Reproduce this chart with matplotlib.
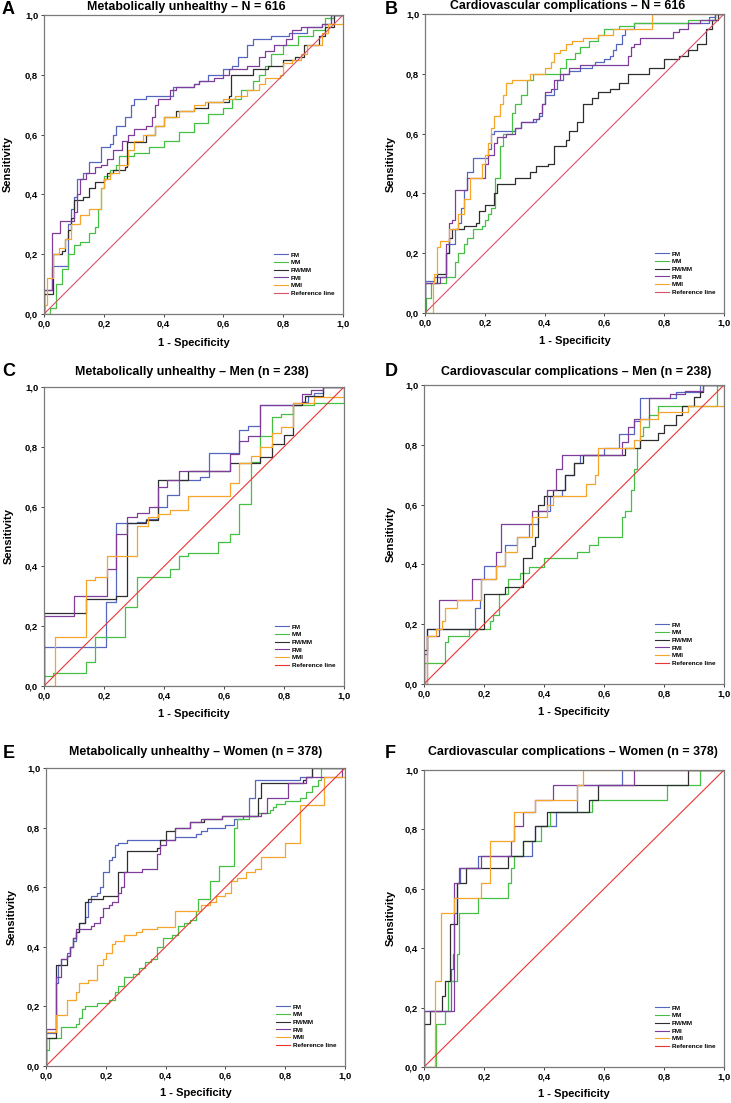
import matplotlib
matplotlib.use("Agg")
import matplotlib.pyplot as plt

plt.rcParams['font.family'] = ['Liberation Sans', 'DejaVu Sans']
plt.rcParams['font.weight'] = 'bold'

W, H = 731, 1103

SERIES = ['FM', 'MM', 'FM/MM', 'FMI', 'MMI']
COLORS = ['#5566c0', '#45c045', '#2e2e2e', '#7d3d98', '#f5a52a']
TICKS = [0.0, 0.2, 0.4, 0.6, 0.8, 1.0]
TICK_LABELS = ['0,0', '0,2', '0,4', '0,6', '0,8', '1,0']

# ROC curves: (1 - specificity, sensitivity) at each jump
A_FM = [(0, 0), (0, 0.08), (0.026, 0.16), (0.08, 0.3), (0.09, 0.35), (0.1, 0.39), (0.11, 0.45), (0.13, 0.47),
        (0.15, 0.51), (0.19, 0.56), (0.22, 0.57), (0.23, 0.6), (0.24, 0.63), (0.27, 0.66), (0.29, 0.7), (0.3, 0.72),
        (0.34, 0.73), (0.43, 0.76), (0.5, 0.77), (0.52, 0.78), (0.55, 0.8), (0.6, 0.82), (0.63, 0.83), (0.65, 0.86),
        (0.68, 0.9), (0.7, 0.92), (0.76, 0.93), (0.82, 0.94), (0.88, 0.96), (0.93, 0.97), (0.96, 1.0), (1.0, 1.0)]
A_MM = [(0, 0), (0.02, 0.02), (0.04, 0.1), (0.06, 0.15), (0.08, 0.2), (0.1, 0.23), (0.12, 0.24), (0.15, 0.27),
        (0.17, 0.29), (0.18, 0.35), (0.19, 0.42), (0.2, 0.46), (0.22, 0.48), (0.24, 0.5), (0.25, 0.53), (0.3, 0.54),
        (0.35, 0.56), (0.4, 0.58), (0.45, 0.61), (0.5, 0.64), (0.55, 0.67), (0.6, 0.69), (0.63, 0.72), (0.66, 0.75),
        (0.7, 0.78), (0.72, 0.8), (0.74, 0.83), (0.76, 0.87), (0.8, 0.9), (0.85, 0.93), (0.9, 0.95), (0.94, 0.99),
        (0.97, 1.0), (1.0, 1.0)]
A_FMMM = [(0, 0), (0, 0.066), (0.03, 0.2), (0.06, 0.21), (0.07, 0.25), (0.08, 0.28), (0.09, 0.32), (0.1, 0.38),
          (0.13, 0.39), (0.15, 0.42), (0.17, 0.44), (0.2, 0.45), (0.21, 0.47), (0.23, 0.48), (0.27, 0.49),
          (0.276, 0.576), (0.34, 0.6), (0.37, 0.63), (0.4, 0.66), (0.44, 0.68), (0.5, 0.69), (0.55, 0.71),
          (0.62, 0.73), (0.625, 0.8), (0.7, 0.82), (0.75, 0.83), (0.8, 0.85), (0.84, 0.86), (0.87, 0.9),
          (0.92, 0.93), (0.94, 0.96), (0.97, 1.0), (1.0, 1.0)]
A_FMI = [(0, 0), (0, 0.08), (0.026, 0.27), (0.053, 0.31), (0.1, 0.34), (0.11, 0.4), (0.12, 0.45), (0.14, 0.47),
         (0.17, 0.49), (0.19, 0.5), (0.21, 0.52), (0.23, 0.55), (0.26, 0.58), (0.28, 0.6), (0.3, 0.62), (0.34, 0.63),
         (0.36, 0.66), (0.37, 0.7), (0.38, 0.72), (0.42, 0.75), (0.44, 0.76), (0.5, 0.77), (0.52, 0.78), (0.57, 0.79),
         (0.6, 0.8), (0.62, 0.82), (0.68, 0.83), (0.72, 0.86), (0.74, 0.88), (0.77, 0.9), (0.81, 0.92), (0.83, 0.95),
         (0.86, 0.96), (0.93, 0.97), (0.96, 1.0), (1.0, 1.0)]
A_MMI = [(0, 0), (0.003, 0.03), (0.01, 0.12), (0.03, 0.2), (0.05, 0.22), (0.07, 0.25), (0.09, 0.3), (0.12, 0.33),
         (0.15, 0.35), (0.19, 0.42), (0.2, 0.45), (0.22, 0.47), (0.25, 0.5), (0.28, 0.55), (0.3, 0.58), (0.33, 0.6),
         (0.37, 0.63), (0.4, 0.66), (0.45, 0.68), (0.5, 0.7), (0.54, 0.71), (0.6, 0.72), (0.64, 0.73), (0.68, 0.75),
         (0.72, 0.77), (0.74, 0.79), (0.79, 0.8), (0.8, 0.84), (0.83, 0.85), (0.86, 0.87), (0.88, 0.9), (0.93, 0.94),
         (0.95, 0.97), (1.0, 1.0)]

B_FM = [(0, 0), (0, 0.106), (0.03, 0.12), (0.07, 0.2), (0.08, 0.23), (0.1, 0.28), (0.11, 0.3), (0.12, 0.35),
        (0.13, 0.41), (0.14, 0.47), (0.16, 0.52), (0.21, 0.55), (0.22, 0.6), (0.23, 0.61), (0.3, 0.62), (0.32, 0.64),
        (0.37, 0.65), (0.38, 0.66), (0.39, 0.7), (0.4, 0.73), (0.43, 0.75), (0.44, 0.78), (0.46, 0.8), (0.48, 0.81),
        (0.52, 0.82), (0.56, 0.83), (0.57, 0.84), (0.6, 0.85), (0.62, 0.86), (0.63, 0.88), (0.64, 0.9), (0.66, 0.93),
        (0.67, 0.95), (0.7, 0.97), (0.95, 0.99), (0.97, 1.0), (1.0, 1.0)]
B_MM = [(0, 0), (0.005, 0.05), (0.02, 0.1), (0.07, 0.12), (0.1, 0.17), (0.11, 0.2), (0.13, 0.23), (0.14, 0.25),
        (0.16, 0.28), (0.19, 0.29), (0.2, 0.31), (0.21, 0.33), (0.22, 0.35), (0.235, 0.45), (0.25, 0.56), (0.26, 0.6),
        (0.29, 0.67), (0.3, 0.7), (0.32, 0.73), (0.34, 0.78), (0.36, 0.8), (0.45, 0.82), (0.47, 0.85), (0.5, 0.87),
        (0.52, 0.89), (0.55, 0.91), (0.58, 0.93), (0.6, 0.95), (0.65, 0.96), (0.7, 0.97), (0.88, 0.98), (0.97, 1.0),
        (1.0, 1.0)]
B_FMMM = [(0, 0), (0, 0.1), (0.04, 0.13), (0.07, 0.2), (0.08, 0.25), (0.09, 0.28), (0.13, 0.29), (0.17, 0.3),
          (0.18, 0.34), (0.2, 0.36), (0.23, 0.4), (0.24, 0.43), (0.3, 0.45), (0.35, 0.47), (0.37, 0.49), (0.41, 0.5),
          (0.43, 0.56), (0.47, 0.58), (0.48, 0.61), (0.51, 0.64), (0.53, 0.7), (0.56, 0.72), (0.58, 0.74),
          (0.62, 0.75), (0.65, 0.77), (0.68, 0.8), (0.75, 0.82), (0.8, 0.85), (0.85, 0.86), (0.88, 0.88),
          (0.91, 0.9), (0.94, 0.95), (0.96, 0.98), (0.98, 1.0), (1.0, 1.0)]
B_FMI = [(0, 0), (0, 0.1), (0.05, 0.12), (0.07, 0.23), (0.08, 0.3), (0.09, 0.31), (0.1, 0.41), (0.14, 0.45),
         (0.2, 0.5), (0.21, 0.53), (0.23, 0.57), (0.24, 0.59), (0.27, 0.6), (0.3, 0.62), (0.32, 0.64), (0.36, 0.65),
         (0.38, 0.67), (0.39, 0.7), (0.4, 0.74), (0.42, 0.75), (0.43, 0.78), (0.45, 0.8), (0.48, 0.82), (0.52, 0.83),
         (0.68, 0.86), (0.69, 0.89), (0.7, 0.9), (0.72, 0.92), (0.83, 0.94), (0.85, 0.95), (0.88, 0.97),
         (0.92, 0.98), (0.97, 1.0), (1.0, 1.0)]
B_MMI = [(0, 0), (0.028, 0.1), (0.03, 0.13), (0.04, 0.22), (0.05, 0.24), (0.08, 0.28), (0.11, 0.33), (0.13, 0.38),
         (0.15, 0.45), (0.19, 0.5), (0.2, 0.53), (0.21, 0.57), (0.22, 0.62), (0.23, 0.66), (0.25, 0.7), (0.26, 0.73),
         (0.27, 0.77), (0.29, 0.78), (0.35, 0.8), (0.4, 0.82), (0.42, 0.84), (0.43, 0.87), (0.45, 0.88), (0.47, 0.9),
         (0.49, 0.91), (0.53, 0.92), (0.58, 0.93), (0.63, 0.95), (0.76, 1.0), (1.0, 1.0)]

C_FM = [(0, 0), (0, 0.13), (0.208, 0.28), (0.241, 0.545), (0.31, 0.55), (0.34, 0.56), (0.38, 0.6), (0.41, 0.64),
        (0.45, 0.69), (0.52, 0.7), (0.55, 0.78), (0.65, 0.855), (0.68, 0.87), (0.72, 0.94), (0.86, 0.95),
        (0.88, 0.97), (0.9, 0.98), (0.93, 1.0), (1.0, 1.0)]
C_MM = [(0, 0), (0, 0.033), (0.03, 0.045), (0.14, 0.08), (0.17, 0.165), (0.27, 0.265), (0.31, 0.365), (0.42, 0.39),
        (0.45, 0.435), (0.48, 0.445), (0.58, 0.48), (0.62, 0.51), (0.65, 0.61), (0.69, 0.75), (0.72, 0.835),
        (0.76, 0.9), (0.79, 0.91), (0.83, 0.94), (0.9, 0.945), (1.0, 1.0)]
C_FMMM = [(0, 0), (0, 0.245), (0.14, 0.29), (0.24, 0.3), (0.275, 0.545), (0.34, 0.555), (0.38, 0.69), (0.48, 0.72),
          (0.62, 0.745), (0.72, 0.765), (0.76, 0.81), (0.8, 0.84), (0.83, 0.94), (0.86, 0.95), (0.87, 0.97),
          (0.93, 1.0), (1.0, 1.0)]
C_FMI = [(0, 0), (0, 0.235), (0.1, 0.3), (0.21, 0.39), (0.24, 0.51), (0.275, 0.565), (0.31, 0.58), (0.35, 0.6),
         (0.38, 0.665), (0.41, 0.69), (0.45, 0.72), (0.62, 0.775), (0.65, 0.82), (0.68, 0.835), (0.72, 0.94),
         (0.83, 0.945), (0.86, 0.975), (0.89, 0.99), (0.93, 1.0), (1.0, 1.0)]
C_MMI = [(0, 0), (0.035, 0.165), (0.14, 0.355), (0.17, 0.365), (0.21, 0.435), (0.31, 0.535), (0.345, 0.565),
         (0.38, 0.575), (0.42, 0.59), (0.48, 0.635), (0.62, 0.68), (0.65, 0.745), (0.69, 0.77), (0.72, 0.8),
         (0.76, 0.845), (0.79, 0.865), (0.83, 0.945), (0.9, 0.965), (1.0, 1.0)]

D_FM = [(0, 0), (0, 0.1), (0.01, 0.185), (0.17, 0.255), (0.185, 0.28), (0.19, 0.35), (0.2, 0.395), (0.27, 0.465),
        (0.31, 0.49), (0.35, 0.535), (0.38, 0.58), (0.42, 0.63), (0.46, 0.65), (0.47, 0.7), (0.5, 0.74),
        (0.52, 0.765), (0.6, 0.79), (0.65, 0.835), (0.7, 0.88), (0.72, 0.955), (0.84, 0.975), (0.92, 1.0), (1.0, 1.0)]
D_MM = [(0, 0), (0, 0.069), (0.07, 0.14), (0.08, 0.16), (0.15, 0.185), (0.22, 0.21), (0.23, 0.23), (0.25, 0.3),
        (0.28, 0.35), (0.32, 0.37), (0.35, 0.39), (0.4, 0.42), (0.51, 0.44), (0.55, 0.465), (0.58, 0.49),
        (0.66, 0.56), (0.67, 0.58), (0.69, 0.65), (0.7, 0.72), (0.71, 0.79), (0.72, 0.83), (0.73, 0.86),
        (0.75, 0.9), (0.78, 0.93), (0.975, 1.0), (1.0, 1.0)]
D_FMMM = [(0, 0), (0, 0.115), (0.01, 0.185), (0.2, 0.3), (0.27, 0.325), (0.33, 0.42), (0.36, 0.46), (0.37, 0.49),
          (0.38, 0.6), (0.4, 0.63), (0.43, 0.65), (0.47, 0.7), (0.5, 0.74), (0.53, 0.765), (0.67, 0.79),
          (0.72, 0.815), (0.78, 0.84), (0.8, 0.865), (0.84, 0.9), (0.86, 0.93), (0.9, 0.96), (0.92, 0.975),
          (0.93, 1.0), (1.0, 1.0)]
D_FMI = [(0, 0), (0.01, 0.16), (0.05, 0.28), (0.16, 0.35), (0.24, 0.44), (0.255, 0.535), (0.36, 0.58),
         (0.41, 0.65), (0.44, 0.72), (0.46, 0.765), (0.66, 0.81), (0.68, 0.86), (0.7, 0.885), (0.75, 0.955),
         (0.82, 0.97), (0.87, 0.98), (0.93, 1.0), (1.0, 1.0)]
D_MMI = [(0, 0), (0.01, 0.16), (0.04, 0.185), (0.06, 0.21), (0.07, 0.255), (0.11, 0.28), (0.19, 0.35),
         (0.24, 0.395), (0.27, 0.44), (0.31, 0.49), (0.36, 0.56), (0.41, 0.6), (0.43, 0.63), (0.54, 0.67),
         (0.57, 0.7), (0.58, 0.79), (0.7, 0.815), (0.72, 0.885), (0.78, 0.91), (0.88, 0.93), (1.0, 1.0)]

E_FM = [(0, 0), (0, 0.11), (0.035, 0.28), (0.04, 0.34), (0.05, 0.36), (0.07, 0.38), (0.08, 0.4), (0.09, 0.42),
        (0.1, 0.45), (0.11, 0.48), (0.13, 0.5), (0.14, 0.55), (0.15, 0.57), (0.17, 0.58), (0.18, 0.6), (0.19, 0.65),
        (0.21, 0.69), (0.22, 0.7), (0.23, 0.74), (0.24, 0.75), (0.27, 0.76), (0.43, 0.77), (0.5, 0.78), (0.52, 0.79),
        (0.54, 0.8), (0.6, 0.81), (0.63, 0.83), (0.66, 0.84), (0.68, 0.9), (0.7, 0.96), (0.85, 0.97), (0.89, 1.0),
        (1.0, 1.0)]
E_MM = [(0, 0), (0, 0.055), (0.01, 0.095), (0.05, 0.13), (0.1, 0.14), (0.11, 0.16), (0.12, 0.19), (0.13, 0.2),
        (0.17, 0.21), (0.21, 0.22), (0.23, 0.25), (0.24, 0.27), (0.26, 0.3), (0.29, 0.31), (0.31, 0.33), (0.33, 0.35),
        (0.35, 0.36), (0.37, 0.4), (0.39, 0.43), (0.42, 0.44), (0.44, 0.47), (0.46, 0.48), (0.48, 0.49), (0.5, 0.52),
        (0.51, 0.56), (0.55, 0.62), (0.58, 0.67), (0.63, 0.8), (0.64, 0.83), (0.68, 0.84), (0.71, 0.85), (0.75, 0.86),
        (0.76, 0.87), (0.77, 0.88), (0.8, 0.89), (0.85, 0.9), (0.87, 0.92), (0.89, 0.94), (0.91, 0.96), (0.92, 1.0),
        (1.0, 1.0)]
E_FMMM = [(0, 0), (0, 0.095), (0.035, 0.34), (0.07, 0.37), (0.08, 0.4), (0.09, 0.43), (0.1, 0.45), (0.11, 0.48),
          (0.13, 0.55), (0.14, 0.56), (0.19, 0.57), (0.24, 0.65), (0.27, 0.72), (0.37, 0.73), (0.38, 0.76),
          (0.4, 0.79), (0.43, 0.8), (0.48, 0.82), (0.53, 0.83), (0.59, 0.84), (0.71, 0.9), (0.72, 0.95),
          (0.86, 0.96), (0.87, 0.97), (0.89, 1.0), (1.0, 1.0)]
E_FMI = [(0, 0), (0, 0.125), (0.035, 0.3), (0.05, 0.36), (0.07, 0.37), (0.08, 0.4), (0.09, 0.43), (0.1, 0.46),
         (0.15, 0.47), (0.16, 0.48), (0.18, 0.5), (0.19, 0.53), (0.21, 0.54), (0.22, 0.55), (0.24, 0.58), (0.25, 0.6),
         (0.26, 0.65), (0.32, 0.66), (0.37, 0.71), (0.38, 0.74), (0.4, 0.76), (0.43, 0.8), (0.48, 0.82), (0.52, 0.83),
         (0.59, 0.84), (0.72, 0.85), (0.74, 0.9), (0.81, 0.95), (0.87, 0.97), (0.99, 1.0), (1.0, 1.0)]
E_MMI = [(0, 0), (0, 0.115), (0.035, 0.17), (0.07, 0.22), (0.1, 0.25), (0.11, 0.28), (0.14, 0.29), (0.17, 0.34),
         (0.19, 0.36), (0.2, 0.38), (0.22, 0.41), (0.23, 0.42), (0.26, 0.44), (0.3, 0.45), (0.32, 0.46),
         (0.37, 0.465), (0.43, 0.52), (0.52, 0.54), (0.55, 0.55), (0.57, 0.57), (0.6, 0.58), (0.62, 0.62),
         (0.64, 0.63), (0.67, 0.65), (0.7, 0.66), (0.72, 0.7), (0.8, 0.75), (0.85, 0.875), (0.93, 0.97), (1.0, 1.0)]

F_FM = [(0, 0), (0, 0.19), (0.09, 0.33), (0.095, 0.38), (0.1, 0.52), (0.11, 0.62), (0.12, 0.67), (0.18, 0.71),
        (0.36, 0.76), (0.37, 0.81), (0.44, 0.86), (0.51, 0.95), (0.66, 1.0), (1.0, 1.0)]
F_MM = [(0, 0), (0.04, 0.145), (0.07, 0.19), (0.08, 0.29), (0.11, 0.38), (0.115, 0.52), (0.18, 0.57), (0.28, 0.62),
        (0.29, 0.67), (0.3, 0.71), (0.33, 0.76), (0.39, 0.81), (0.42, 0.86), (0.56, 0.9), (0.81, 0.95), (0.92, 1.0),
        (1.0, 1.0)]
F_FMMM = [(0, 0), (0, 0.145), (0.02, 0.19), (0.06, 0.24), (0.07, 0.29), (0.085, 0.48), (0.11, 0.62), (0.14, 0.67),
          (0.28, 0.71), (0.33, 0.76), (0.37, 0.81), (0.41, 0.86), (0.55, 0.9), (0.58, 0.95), (0.88, 1.0), (1.0, 1.0)]
F_FMI = [(0, 0), (0, 0.19), (0.1, 0.62), (0.115, 0.67), (0.19, 0.71), (0.29, 0.76), (0.3, 0.81), (0.33, 0.86),
         (0.37, 0.9), (0.43, 0.95), (0.7, 1.0), (1.0, 1.0)]
F_MMI = [(0, 0), (0.035, 0.29), (0.055, 0.52), (0.1, 0.57), (0.19, 0.62), (0.22, 0.76), (0.3, 0.86), (0.37, 0.9),
         (0.51, 0.95), (0.53, 1.0), (1.0, 1.0)]

TITLES = ['Metabolically unhealthy \u2013 N = 616', 'Cardiovascular complications \u2013 N = 616',
          'Metabolically unhealthy \u2013 Men (n = 238)', 'Cardiovascular complications \u2013 Men (n = 238)',
          'Metabolically unhealthy \u2013 Women (n = 378)', 'Cardiovascular complications \u2013 Women (n = 378)']
LETTERS = ['A', 'B', 'C', 'D', 'E', 'F']
CURVES = [[A_FM, A_MM, A_FMMM, A_FMI, A_MMI], [B_FM, B_MM, B_FMMM, B_FMI, B_MMI],
          [C_FM, C_MM, C_FMMM, C_FMI, C_MMI], [D_FM, D_MM, D_FMMM, D_FMI, D_MMI],
          [E_FM, E_MM, E_FMMM, E_FMI, E_MMI], [F_FM, F_MM, F_FMMM, F_FMI, F_MMI]]

# layout in pixels: axes (left, right, top, bottom), title centre, letter pos, ylabel x, xlabel y
AX_PX = [(44, 343, 15, 314), (425, 724, 14, 313), (44, 344, 387, 686),
         (424, 724, 385, 684), (46, 345, 768, 1066), (424, 724, 770, 1067)]
TITLE_PX = [(186, 7), (568, 6), (192, 372), (576, 372), (196, 752), (573, 752)]
LETTER_PX = [(2, 9), (385, 9), (2, 371), (385, 371), (3, 753), (385, 753)]
YLAB_X = [8, 391, 9, 391, 12, 391]
XLAB_Y = [343, 341, 714, 712, 1093, 1094]
REF_COLORS = ['#d8506a', '#d8506a', '#ec3434', '#ec3434', '#ec3434', '#ec3434']

fig = plt.figure(figsize=(W / 100, H / 100), dpi=100)


def fx(px):
    return px / W


def fy(py):
    return 1 - py / H


for i in range(6):
    l, r, t, b = AX_PX[i]
    ax = fig.add_axes([fx(l), fy(b), (r - l) / W, (b - t) / H])
    for name, col, pts in zip(SERIES, COLORS, CURVES[i]):
        xs = [p[0] for p in pts]
        ys = [p[1] for p in pts]
        ax.plot(xs, ys, drawstyle='steps-post', color=col, lw=0.9, label=name)
    ax.plot([0, 1], [0, 1], color=REF_COLORS[i], lw=0.8, label='Reference line')
    ax.set_xlim(0, 1)
    ax.set_ylim(0, 1)
    ax.set_xticks(TICKS)
    ax.set_xticklabels(TICK_LABELS)
    ax.set_yticks(TICKS)
    ax.set_yticklabels(TICK_LABELS)
    ax.tick_params(direction='out', length=2.2, width=0.7, pad=2, labelsize=6.8, color='#444444')
    for lab in ax.get_xticklabels() + ax.get_yticklabels():
        lab.set_fontweight('bold')
    for sp in ax.spines.values():
        sp.set_color('#7a7a7a')
        sp.set_linewidth(0.9)
    leg = ax.legend(loc='lower right', bbox_to_anchor=(0.97, 0.06), frameon=False, fontsize=4.6,
                    handlelength=2.2, handletextpad=0.4, labelspacing=0.35, borderaxespad=0, borderpad=0)
    for txt in leg.get_texts():
        txt.set_fontweight('bold')
    for ln in leg.get_lines():
        ln.set_linewidth(0.8)

    tx, ty = TITLE_PX[i]
    fig.text(fx(tx), fy(ty), TITLES[i], ha='center', va='center', fontsize=8.9, fontweight='bold')
    lx, ly = LETTER_PX[i]
    fig.text(fx(lx), fy(ly), LETTERS[i], ha='left', va='center', fontsize=13, fontweight='bold')
    fig.text(fx(YLAB_X[i]), fy((t + b) / 2), 'Sensitivity', ha='center', va='center', rotation=90,
             fontsize=8, fontweight='bold')
    fig.text(fx((l + r) / 2), fy(XLAB_Y[i]), '1 - Specificity', ha='center', va='center',
             fontsize=8, fontweight='bold')

fig.savefig('out.png', dpi=100)
